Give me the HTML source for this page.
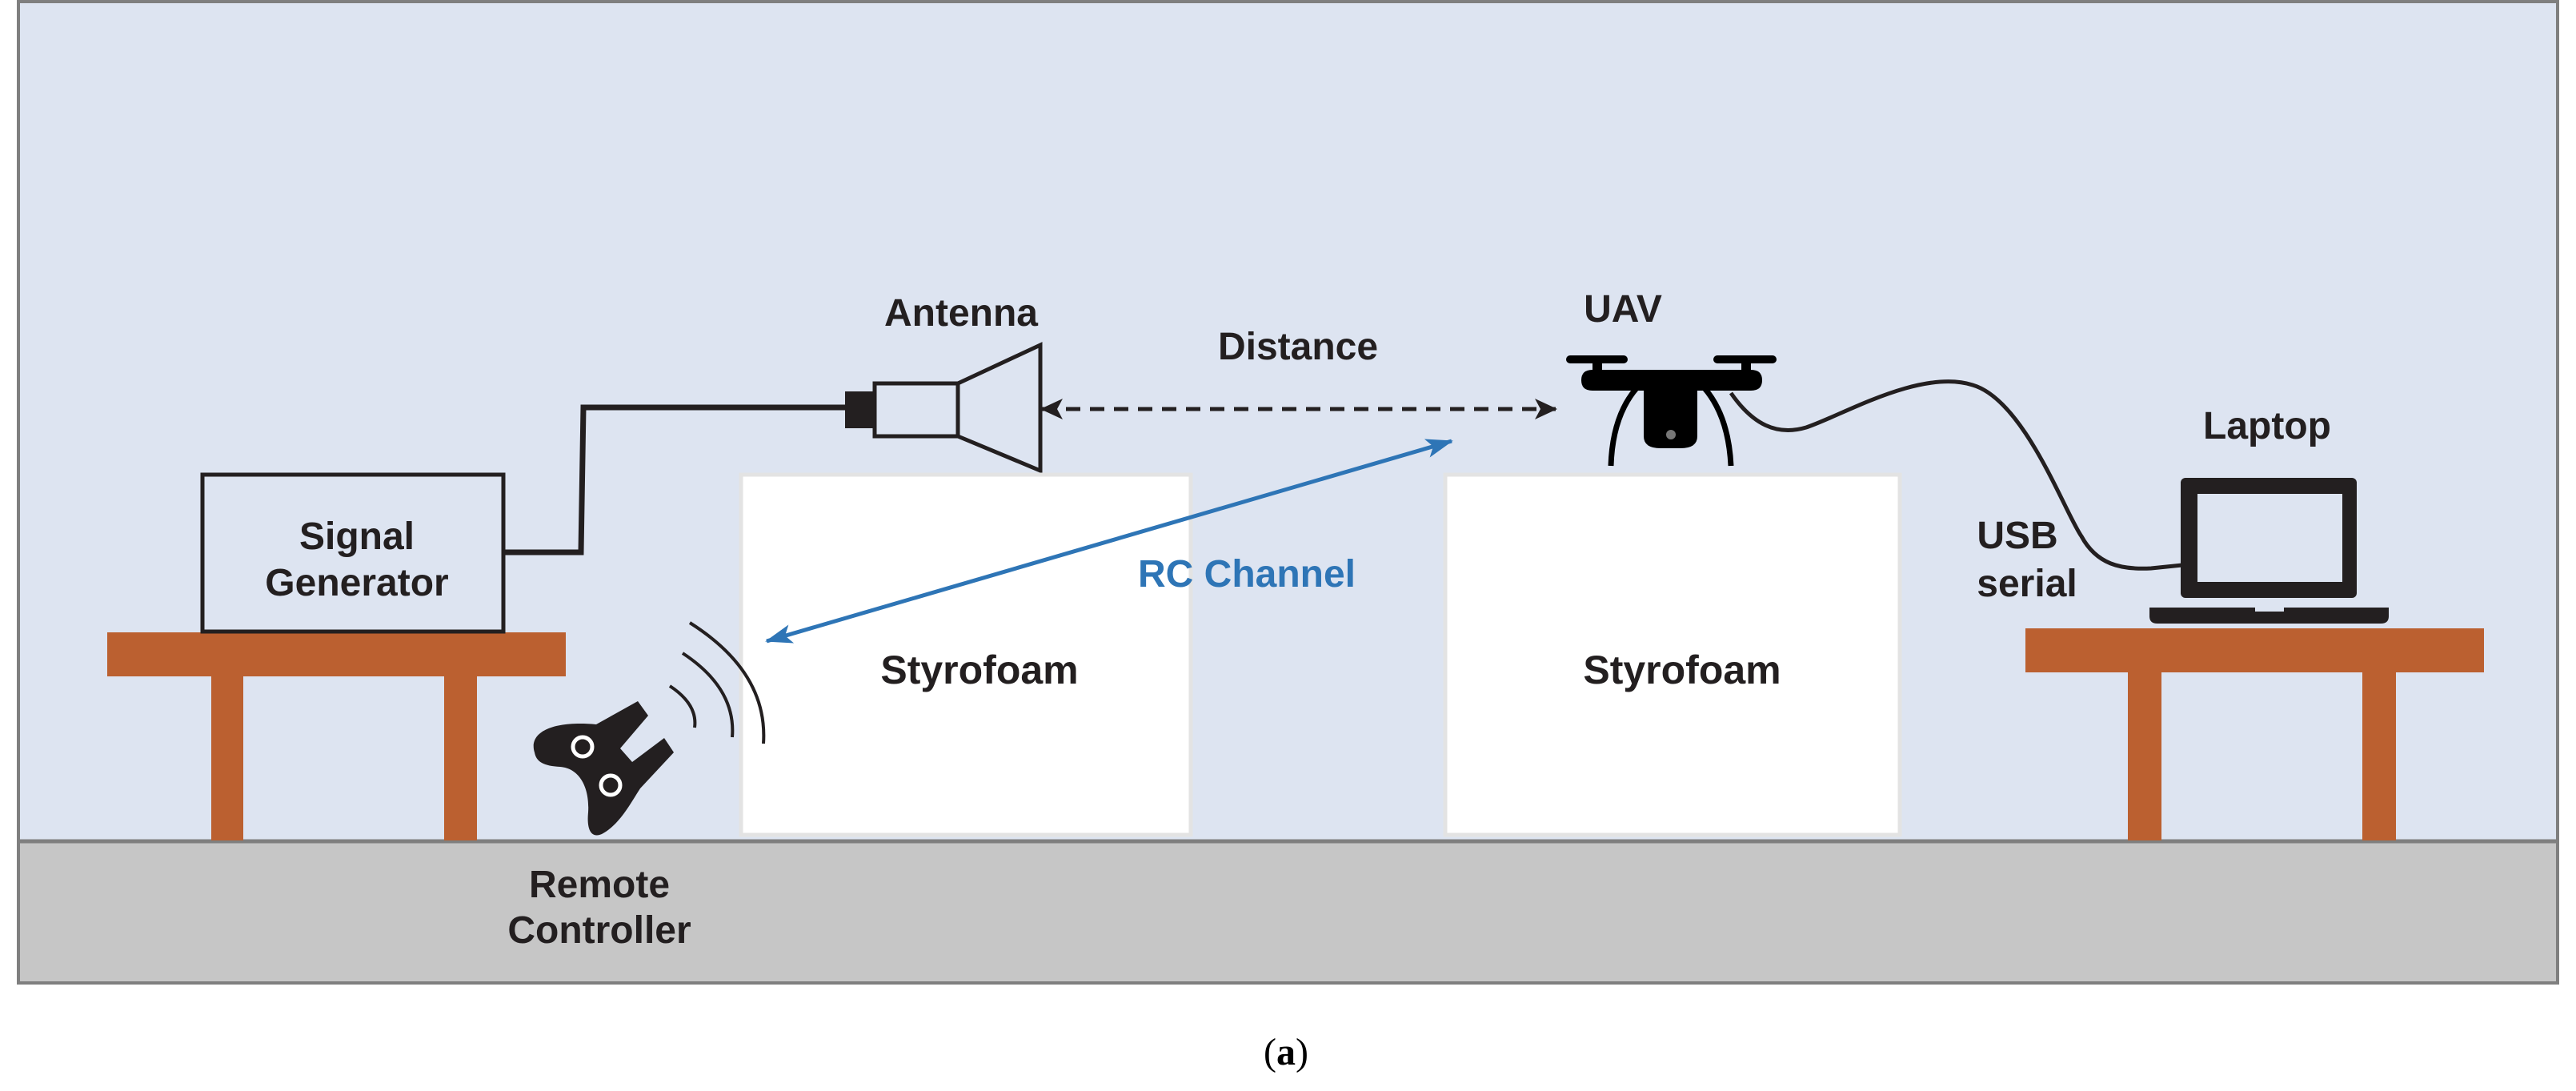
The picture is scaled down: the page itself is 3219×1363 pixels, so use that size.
<!DOCTYPE html>
<html><head><meta charset="utf-8"><style>
html,body{margin:0;padding:0;background:#fff;}
svg{display:block;}
text{font-family:"Liberation Sans",sans-serif;font-weight:bold;fill:#231f20;}
</style></head><body>
<svg width="3219" height="1363" viewBox="0 0 3219 1363" xmlns="http://www.w3.org/2000/svg">
<defs>
<marker id="ab" markerWidth="30" markerHeight="30" refX="26" refY="15" orient="auto-start-reverse" markerUnits="userSpaceOnUse" viewBox="0 0 30 30"><path d="M0,2 L28,15 L0,28 L7,15 Z" fill="#231f20"/></marker>
<marker id="bl" markerWidth="36" markerHeight="30" refX="32" refY="15" orient="auto-start-reverse" markerUnits="userSpaceOnUse" viewBox="0 0 36 30"><path d="M0,3 L34,15 L0,27 L8,15 Z" fill="#2e75b6"/></marker>
</defs>
<rect x="0" y="0" width="3219" height="1363" fill="#fff"/>
<rect x="23" y="2" width="3173" height="1049" fill="#dde4f1"/>
<rect x="23" y="1051" width="3173" height="177" fill="#c6c6c6"/>
<line x1="23" y1="1051" x2="3196" y2="1051" stroke="#7f7f7f" stroke-width="5"/>
<rect x="23" y="2" width="3173" height="1226" fill="none" stroke="#7f7f7f" stroke-width="4"/>

<!-- left table -->
<rect x="134" y="790" width="573" height="55" fill="#bb6030"/>
<rect x="264" y="845" width="40" height="205" fill="#bb6030"/>
<rect x="555" y="845" width="41" height="205" fill="#bb6030"/>
<!-- signal generator -->
<rect x="253" y="593" width="376" height="196" fill="#dde4f1" stroke="#231f20" stroke-width="5"/>
<text x="446" y="686" font-size="48" text-anchor="middle">Signal</text>
<text x="446" y="744" font-size="48" text-anchor="middle">Generator</text>
<!-- cable -->
<polyline points="629,690 726,690 729,509 1058,509" fill="none" stroke="#231f20" stroke-width="7"/>
<rect x="1056" y="489" width="37" height="46" fill="#231f20"/>
<rect x="1093" y="479" width="104" height="66" fill="#dde4f1" stroke="#231f20" stroke-width="5"/>
<polygon points="1197,479 1300,431 1300,588 1197,545" fill="#dde4f1" stroke="#231f20" stroke-width="5"/>
<text x="1201" y="407" font-size="48" text-anchor="middle">Antenna</text>

<!-- styrofoam -->
<rect x="926" y="593" width="562" height="450" fill="#fff" stroke="#e3e3e3" stroke-width="5"/>
<rect x="1806" y="593" width="568" height="450" fill="#fff" stroke="#e3e3e3" stroke-width="5"/>
<text x="1224" y="854" font-size="50" text-anchor="middle">Styrofoam</text>
<text x="2102" y="854" font-size="50" text-anchor="middle">Styrofoam</text>

<!-- distance -->
<line x1="1302" y1="511" x2="1944" y2="511" stroke="#231f20" stroke-width="5" stroke-dasharray="18,12" marker-start="url(#ab)" marker-end="url(#ab)"/>
<text x="1622" y="449" font-size="48" text-anchor="middle">Distance</text>

<!-- RC channel -->
<line x1="958" y1="801" x2="1814" y2="551" stroke="#2e75b6" stroke-width="5" marker-start="url(#bl)" marker-end="url(#bl)"/>
<text x="1558" y="733" font-size="48" text-anchor="middle" style="fill:#2e75b6">RC Channel</text>

<!-- remote controller -->
<path d="M668 940 C660 915,690 900,745 905 L797 876 L810 894 L775 935 L790 952 L830 922 L842 940 L800 985 C790 1000,775 1030,752 1042 C738 1048,733 1035,735 1015 C737 985,725 960,700 958 C680 957,670 952,668 940 Z" fill="#231f20"/>
<circle cx="728" cy="933" r="12" fill="#231f20" stroke="#fff" stroke-width="5"/>
<circle cx="763" cy="981" r="12" fill="#231f20" stroke="#fff" stroke-width="5"/>
<path d="M837 857 Q872 880 868 909" fill="none" stroke="#231f20" stroke-width="4"/>
<path d="M853 816 Q920 860 915 921" fill="none" stroke="#231f20" stroke-width="4"/>
<path d="M862 778 Q960 840 954 929" fill="none" stroke="#231f20" stroke-width="4"/>
<text x="749" y="1121" font-size="48" text-anchor="middle">Remote</text>
<text x="749" y="1178" font-size="48" text-anchor="middle">Controller</text>

<!-- UAV -->
<text x="2028" y="402" font-size="48" text-anchor="middle">UAV</text>
<g fill="#000">
<rect x="1957" y="444" width="77" height="10" rx="5"/>
<rect x="2141" y="444" width="79" height="10" rx="5"/>
<rect x="1990" y="448" width="12" height="16"/>
<rect x="2176" y="448" width="12" height="16"/>
<path d="M1976 475 Q1976 462 1990 462 L2188 462 Q2202 462 2202 475 Q2202 488 2188 488 L1990 488 Q1976 488 1976 475 Z"/>
<path d="M2054 480 Q2054 472 2065 472 L2110 472 Q2121 472 2121 480 L2121 545 Q2121 560 2100 560 L2075 560 Q2054 560 2054 545 Z"/>
<path d="M2045 485 Q2015 520 2013 582" fill="none" stroke="#000" stroke-width="7"/>
<path d="M2130 485 Q2160 520 2163 582" fill="none" stroke="#000" stroke-width="7"/>
</g>
<circle cx="2088" cy="543" r="6" fill="#777"/>
<!-- USB cable -->
<path d="M2163 491 C2190 530,2220 545,2257 534 C2300 520,2400 460,2465 481 C2530 500,2580 640,2601 670 C2620 705,2650 712,2688 710 L2727 706" fill="none" stroke="#231f20" stroke-width="5"/>
<text x="2521" y="685" font-size="48" text-anchor="middle">USB</text>
<text x="2533" y="745" font-size="48" text-anchor="middle">serial</text>

<!-- laptop -->
<text x="2833" y="548" font-size="48" text-anchor="middle">Laptop</text>
<rect x="2725" y="597" width="220" height="150" rx="6" fill="#231f20"/>
<rect x="2746" y="617" width="181" height="110" fill="#dde4f1"/>
<path d="M2686 759 L2985 759 L2985 770 Q2985 779 2975 779 L2696 779 Q2686 779 2686 770 Z" fill="#231f20"/>
<rect x="2818" y="759" width="36" height="5" fill="#dde4f1"/>
<!-- right table -->
<rect x="2531" y="785" width="573" height="55" fill="#bb6030"/>
<rect x="2659" y="840" width="42" height="210" fill="#bb6030"/>
<rect x="2952" y="840" width="42" height="210" fill="#bb6030"/>

<text x="1607" y="1330" font-size="48" text-anchor="middle" style="font-family:'Liberation Serif',serif;font-weight:normal;fill:#000">(<tspan font-weight="bold">a</tspan>)</text>
</svg>
</body></html>
